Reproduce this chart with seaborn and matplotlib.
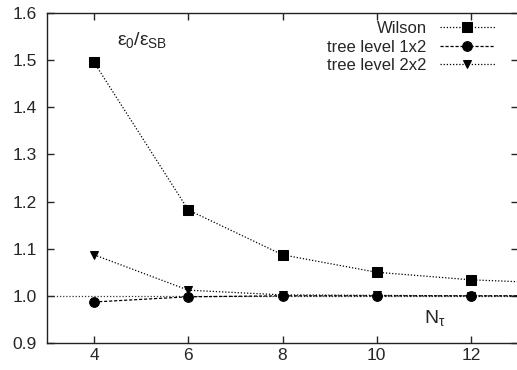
import matplotlib
matplotlib.use("Agg")
import matplotlib.pyplot as plt
from matplotlib.legend import Legend
import seaborn as sns
import pandas as pd

# data (N_tau = 14 only continues the lines past the right edge)
n_tau = [4, 6, 8, 10, 12, 14]
wilson = [1.495, 1.182, 1.087, 1.050, 1.034, 1.026]
tree_1x2 = [0.987, 0.998, 1.000, 1.000, 1.000, 1.000]
tree_2x2 = [1.087, 1.012, 1.002, 1.001, 1.000, 1.000]
series_names = ["Wilson", "tree level 1x2", "tree level 2x2"]
x_ticks = [4, 6, 8, 10, 12]
y_ticks = [0.9, 1.0, 1.1, 1.2, 1.3, 1.4, 1.5, 1.6]

df = pd.concat([
    pd.DataFrame({"N": n_tau, "ratio": v, "action": name})
    for name, v in zip(series_names, [wilson, tree_1x2, tree_2x2])
])

sns.set_style("white")
plt.rcParams["font.family"] = ["Liberation Sans", "DejaVu Sans"]
plt.rcParams["mathtext.fontset"] = "custom"
plt.rcParams["mathtext.rm"] = "Liberation Sans"
plt.rcParams["mathtext.it"] = "Liberation Sans"

fig = plt.figure(figsize=(5.17, 3.70), dpi=100)
ax = fig.add_axes([0.091, 0.073, 0.911, 0.892])

ax.axhline(1.0, color="#333333", lw=0.9, ls=(0, (1, 1.5)), zorder=1)

styles = {
    "Wilson": dict(marker="s", ls=(0, (1, 1.5)), ms=7.5),
    "tree level 1x2": dict(marker="o", ls=(0, (2.5, 1.5)), ms=7),
    "tree level 2x2": dict(marker="v", ls=(0, (1, 1.5)), ms=6.3),
}
for name in series_names:
    st = styles[name]
    sns.lineplot(data=df[df["action"] == name], x="N", y="ratio", ax=ax,
                 color="black", lw=0.9, linestyle=st["ls"], marker=st["marker"],
                 markersize=st["ms"], markeredgecolor="black",
                 markerfacecolor="black", label=name, zorder=3)

ax.set_xlim(3, 13)
ax.set_ylim(0.9, 1.6)
ax.set_xticks(x_ticks)
ax.set_yticks(y_ticks)
ax.set_yticklabels([f"{v:.1f}" for v in y_ticks])
ax.set_xlabel("")
ax.set_ylabel("")
ax.tick_params(direction="in", length=5, width=1, labelsize=12.5,
               top=True, right=True, bottom=True, left=True)
ax.tick_params(axis="x", pad=3.5)
ax.tick_params(axis="y", pad=7.5)
for s in ax.spines.values():
    s.set_color("#222222")
    s.set_linewidth(1)

ax.text(4.49, 1.543, r"$ε_0/ε_{SB}$", fontsize=14, ha="left", va="center")
ax.text(11.0, 0.953, r"$N_τ$", fontsize=14, ha="left", va="center")

# right-aligned legend entries: one small legend per series
handles, labels = ax.get_legend_handles_labels()
ax.get_legend().remove()
entry_y = [0.952, 0.896, 0.840]
for h, lab, yy in zip(handles, labels, entry_y):
    lg = Legend(ax, [h], [lab], loc="center right", bbox_to_anchor=(0.951, yy),
                frameon=False, markerfirst=False, handlelength=3.3,
                handletextpad=0.8, fontsize=12, borderaxespad=0.0,
                borderpad=0.0)
    ax.add_artist(lg)

fig.savefig("out.png", dpi=100)
